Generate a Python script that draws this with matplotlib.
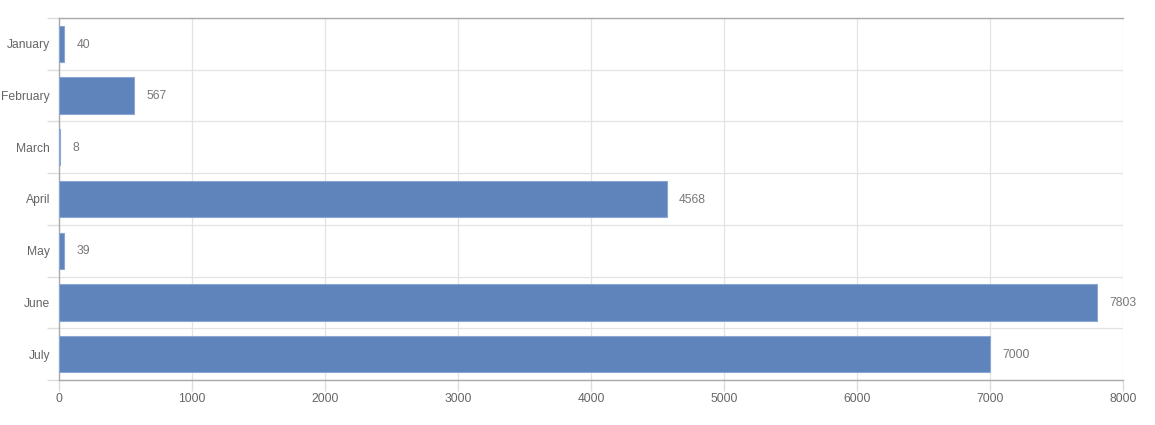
import numpy as np
import matplotlib
matplotlib.use("Agg")
import matplotlib.pyplot as plt

months = ["January", "February", "March", "April", "May", "June", "July"]
values = [40, 567, 8, 4568, 39, 7803, 7000]
x_ticks = [0, 1000, 2000, 3000, 4000, 5000, 6000, 7000, 8000]

plt.rcParams["font.family"] = ["Liberation Sans", "DejaVu Sans"]

fig = plt.figure(figsize=(11.55, 4.25), dpi=100)
ax = fig.add_axes([59 / 1155, 1 - 380 / 425, (1123 - 59) / 1155, (380 - 18) / 425])

y = np.arange(len(months))
ax.barh(y, values, height=0.7, color="#5f83bb", edgecolor="#8aa6d2", linewidth=0.8, zorder=3)

# value labels at the end of each bar
for yi, v in zip(y, values):
    ax.annotate(str(v), (v, yi), xytext=(9, -0.5), textcoords="offset points",
                va="center", ha="left", fontsize=8.7, color="#777777")

ax.set_xlim(0, 8000)
ax.set_ylim(len(months) - 0.5, -0.5)

ax.set_xticks(x_ticks)
ax.set_xticklabels([str(t) for t in x_ticks])
ax.set_yticks(y)
ax.set_yticklabels(months)
ax.set_yticks(np.arange(-0.5, len(months)), minor=True)

ax.tick_params(axis="y", which="major", length=0, pad=6.5, labelsize=8.7, labelcolor="#666666")
ax.tick_params(axis="y", which="minor", length=9, color="#dddddd", width=1)
ax.tick_params(axis="x", which="major", length=8, color="#dddddd", width=1, pad=1,
               labelsize=8.7, labelcolor="#666666")

ax.grid(True, axis="x", which="major", color="#e3e3e3", linewidth=0.9, zorder=0)
ax.grid(True, axis="y", which="minor", color="#e3e3e3", linewidth=0.9, zorder=0)
ax.grid(False, axis="y", which="major")

for side in ["left", "bottom", "top"]:
    ax.spines[side].set_color("#aaaaaa")
    ax.spines[side].set_linewidth(1)
ax.spines["right"].set_visible(False)

fig.savefig("out.png", dpi=100)
